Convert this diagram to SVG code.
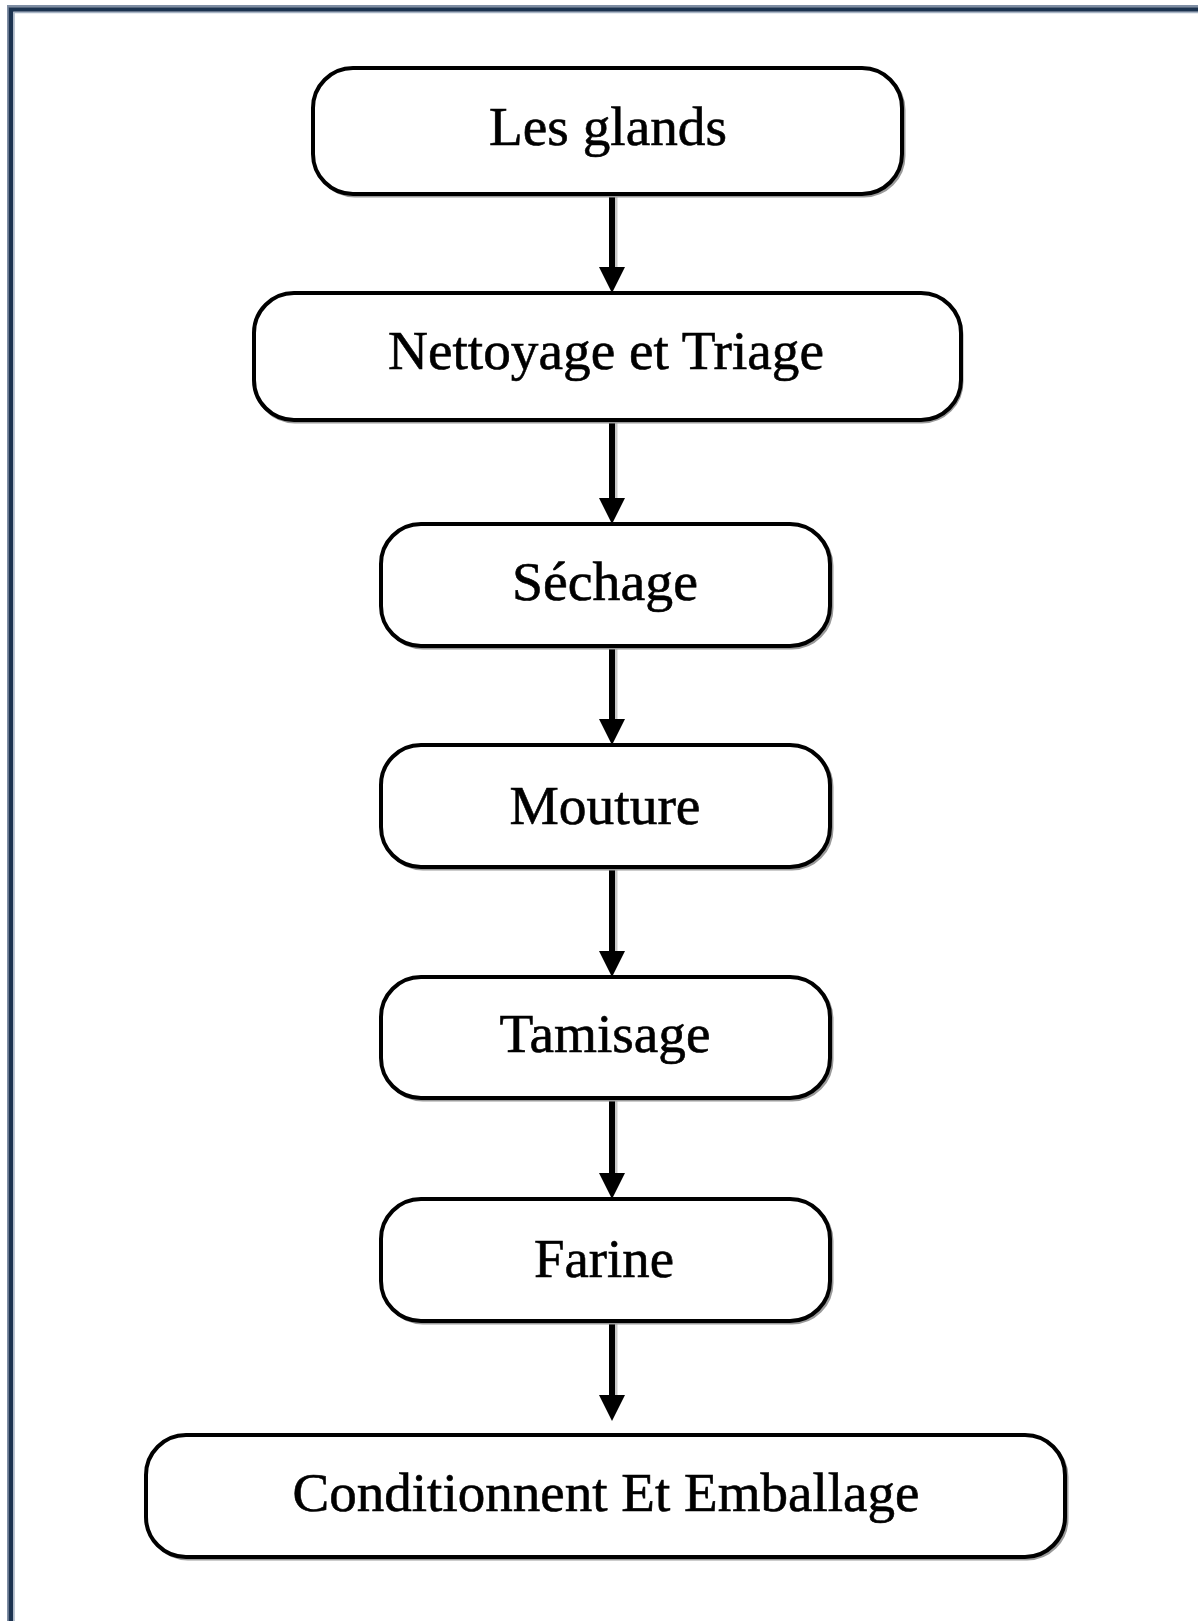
<svg xmlns="http://www.w3.org/2000/svg" width="1198" height="1621" viewBox="0 0 1198 1621">
<style>
.box{fill:#fff;stroke:#000;stroke-width:4}
.shadow{fill:none;stroke:#9a9a9a;stroke-width:3}
.lbl{font-family:"Liberation Serif","Times New Roman",serif;font-size:55px;fill:#000;stroke:#000;stroke-width:0.6;text-anchor:middle}
.shaft{stroke:#000;stroke-width:6}
.shaftsh{stroke:#c8c8c8;stroke-width:3}
.head{fill:#000}
</style>
<rect width="1198" height="1621" fill="#fff"/>
<g id="frame">
<rect x="8" y="6" width="1300" height="1700" fill="none" stroke="#7f8ea4" stroke-width="2"/>
<rect x="11" y="9.5" width="1300" height="1700" fill="none" stroke="#1c3350" stroke-width="4.5"/>
<rect x="14" y="12.5" width="1300" height="1700" fill="none" stroke="#a8b5c5" stroke-width="1.5"/>
</g>
<g id="connectors">
<line class="shaftsh" x1="616" y1="196" x2="616" y2="268"/>
<line class="shaft" x1="612" y1="194" x2="612" y2="270"/>
<polygon class="head" points="599,267 625,267 612,293"/>
<line class="shaftsh" x1="616" y1="422" x2="616" y2="499"/>
<line class="shaft" x1="612" y1="420" x2="612" y2="501"/>
<polygon class="head" points="599,498 625,498 612,524"/>
<line class="shaftsh" x1="616" y1="648" x2="616" y2="720"/>
<line class="shaft" x1="612" y1="646" x2="612" y2="722"/>
<polygon class="head" points="599,719 625,719 612,745"/>
<line class="shaftsh" x1="616" y1="869" x2="616" y2="952"/>
<line class="shaft" x1="612" y1="867" x2="612" y2="954"/>
<polygon class="head" points="599,951 625,951 612,977"/>
<line class="shaftsh" x1="616" y1="1100" x2="616" y2="1174"/>
<line class="shaft" x1="612" y1="1098" x2="612" y2="1176"/>
<polygon class="head" points="599,1173 625,1173 612,1199"/>
<line class="shaftsh" x1="616" y1="1323" x2="616" y2="1396"/>
<line class="shaft" x1="612" y1="1321" x2="612" y2="1398"/>
<polygon class="head" points="599,1395 625,1395 612,1421"/>
</g>
<g id="n1">
<rect class="shadow" x="315" y="70" width="589" height="126" rx="40"/>
<rect class="box" x="313" y="68" width="589" height="126" rx="40"/>
<text class="lbl" x="608" y="145" textLength="238" lengthAdjust="spacingAndGlyphs">Les glands</text>
</g>
<g id="n2">
<rect class="shadow" x="255" y="295" width="707" height="127" rx="40"/>
<rect class="box" x="254" y="293" width="707" height="127" rx="40"/>
<text class="lbl" x="606" y="369" textLength="436" lengthAdjust="spacingAndGlyphs">Nettoyage et Triage</text>
</g>
<g id="n3">
<rect class="shadow" x="383" y="526" width="449" height="122" rx="40"/>
<rect class="box" x="381" y="524" width="449" height="122" rx="40"/>
<text class="lbl" x="605" y="600" textLength="186" lengthAdjust="spacingAndGlyphs">Séchage</text>
</g>
<g id="n4">
<rect class="shadow" x="383" y="747" width="449" height="122" rx="40"/>
<rect class="box" x="381" y="745" width="449" height="122" rx="40"/>
<text class="lbl" x="605" y="824" textLength="191" lengthAdjust="spacingAndGlyphs">Mouture</text>
</g>
<g id="n5">
<rect class="shadow" x="383" y="979" width="449" height="121" rx="40"/>
<rect class="box" x="381" y="977" width="449" height="121" rx="40"/>
<text class="lbl" x="605" y="1052" textLength="211" lengthAdjust="spacingAndGlyphs">Tamisage</text>
</g>
<g id="n6">
<rect class="shadow" x="383" y="1201" width="449" height="122" rx="40"/>
<rect class="box" x="381" y="1199" width="449" height="122" rx="40"/>
<text class="lbl" x="604" y="1277" textLength="140" lengthAdjust="spacingAndGlyphs">Farine</text>
</g>
<g id="n7">
<rect class="shadow" x="148" y="1437" width="919" height="122" rx="40"/>
<rect class="box" x="146" y="1435" width="919" height="122" rx="40"/>
<text class="lbl" x="606" y="1511" textLength="627" lengthAdjust="spacingAndGlyphs">Conditionnent  Et Emballage</text>
</g>
</svg>
